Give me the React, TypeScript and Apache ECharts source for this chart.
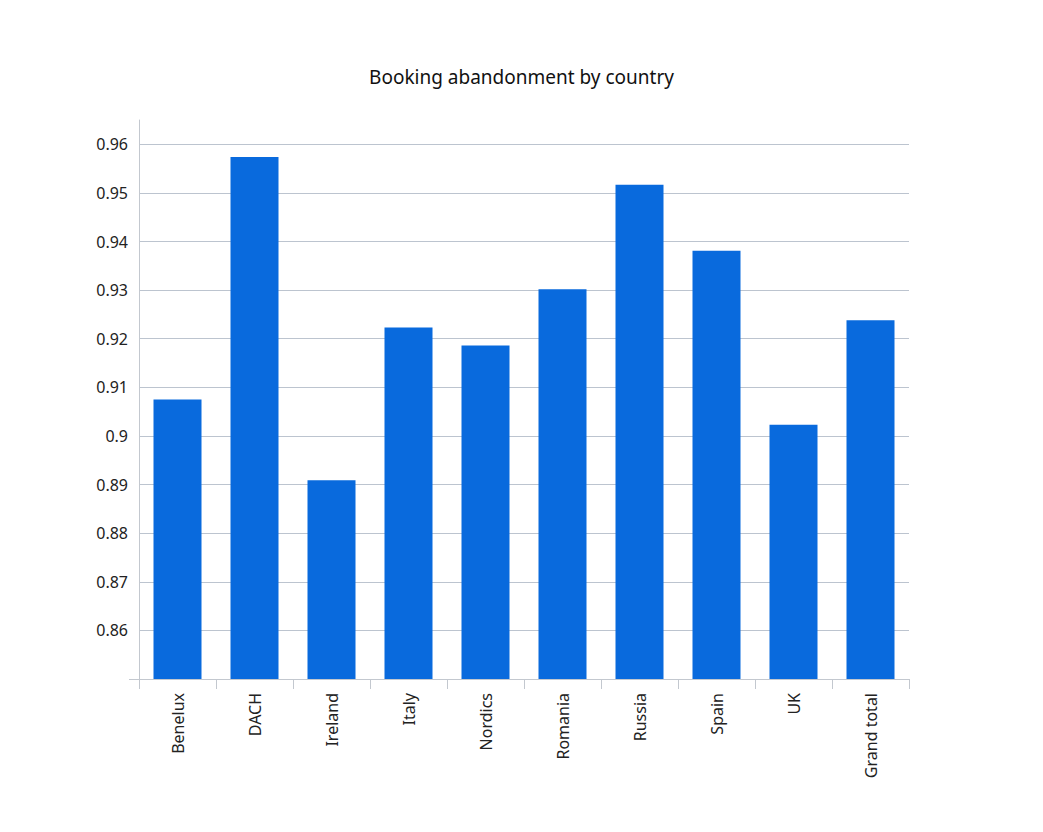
import React, { useEffect, useRef } from "react";
import * as echarts from "echarts";

const categories = ["Benelux", "DACH", "Ireland", "Italy", "Nordics", "Romania", "Russia", "Spain", "UK", "Grand total"];
const values = [0.9075, 0.9574, 0.8909, 0.9223, 0.9186, 0.9302, 0.9517, 0.9381, 0.9023, 0.9238];
const yMin = 0.85;
const yMax = 0.965;
const yInterval = 0.01;

export default function App() {
  const ref = useRef<HTMLDivElement>(null);
  useEffect(() => {
    const chart = echarts.init(ref.current!, null, { renderer: "svg" });
    chart.setOption({
      animation: false,
      title: {
        text: "Booking abandonment by country",
        left: "center",
        top: 62,
        textStyle: { fontFamily: "Noto Sans", fontSize: 19, fontWeight: "normal", color: "#111" },
      },
      grid: { left: 139, right: 134, top: 120, bottom: 153, containLabel: false },
      xAxis: {
        type: "category",
        data: categories,
        axisLine: { show: true, lineStyle: { color: "#c3c8cf", width: 1 } },
        axisTick: { show: true, length: 10, lineStyle: { color: "#c3c8cf" } },
        axisLabel: { rotate: 90, fontFamily: "Noto Sans", fontSize: 16, color: "#222", margin: 14 },
      },
      yAxis: {
        type: "value",
        min: yMin,
        max: yMax,
        interval: yInterval,
        axisLine: { show: true, lineStyle: { color: "#c3c8cf" } },
        axisTick: { show: false },
        splitLine: { show: true, showMaxLine: false, lineStyle: { color: "#bcc4cf" } },
        axisLabel: {
          fontFamily: "Noto Sans",
          fontSize: 16,
          color: "#222",
          margin: 11,
          formatter: (v: number) => {
            const r = Math.round(v * 1000) / 1000;
            if (r <= 0.85 || Math.abs(r * 100 - Math.round(r * 100)) > 0.01) return "";
            return String(Math.round(r * 100) / 100);
          },
        },
      },
      series: [
        {
          type: "bar",
          data: values,
          barWidth: 48,
          itemStyle: { color: "#096add" },
        },
      ],
      graphic: [
        {
          type: "line",
          shape: { x1: 129, y1: 679.5, x2: 139, y2: 679.5 },
          style: { stroke: "#c3c8cf", lineWidth: 1 },
        },
      ],
    });
    return () => chart.dispose();
  }, []);
  return <div ref={ref} style={{ width: 1043, height: 832, position: "absolute", left: 0, top: 0 }} />;
}
